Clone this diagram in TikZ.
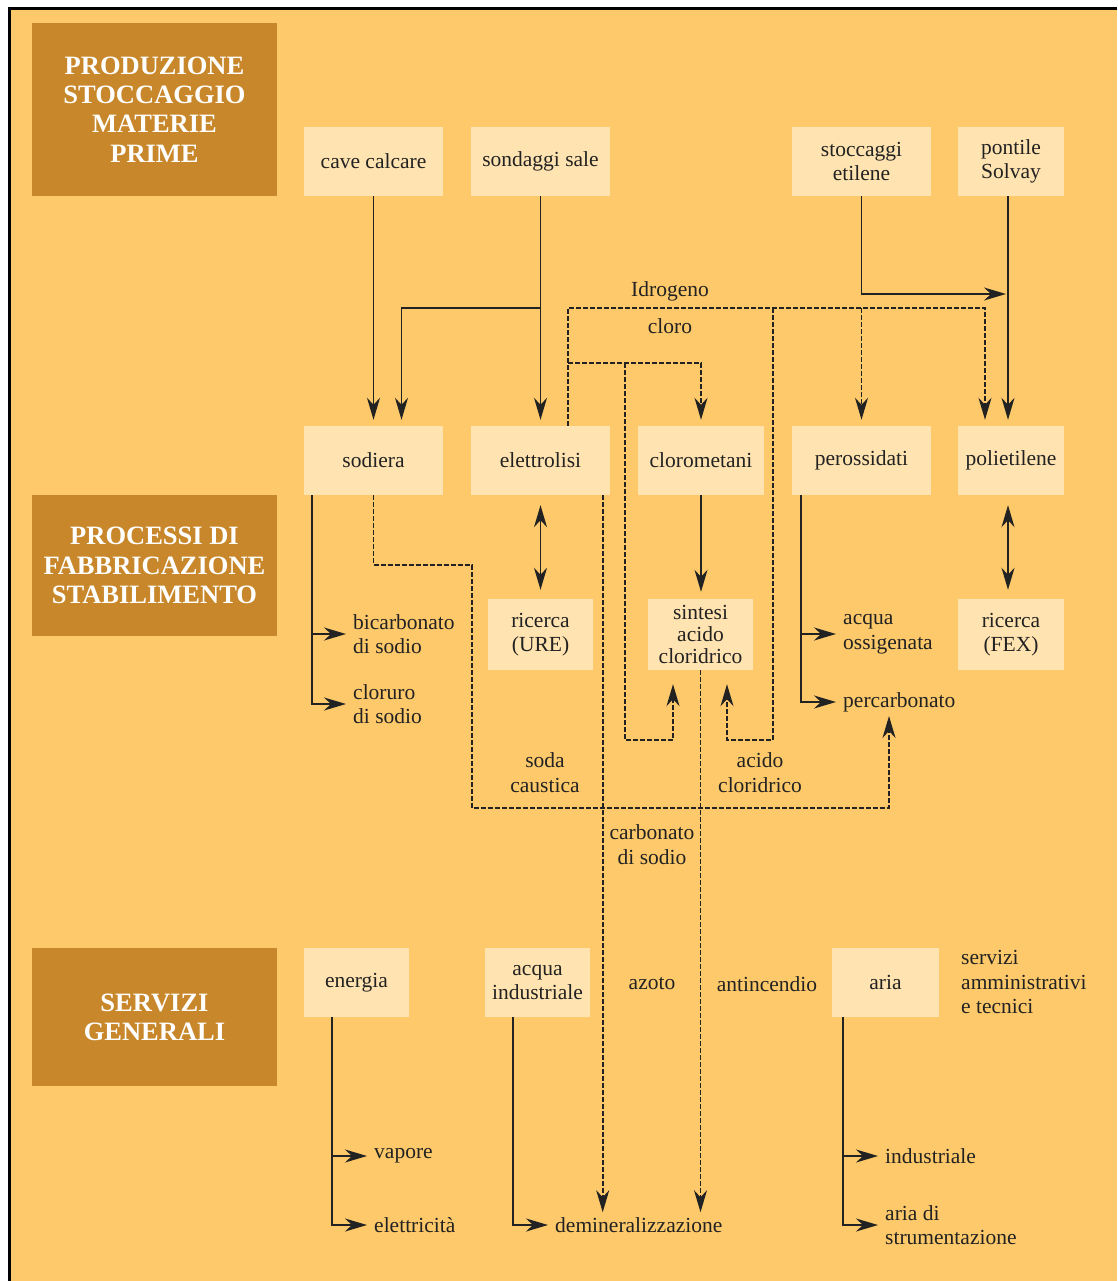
\documentclass[tikz,border=0pt]{standalone}
\usepackage{fontspec}
\setmainfont{Liberation Serif}
\usetikzlibrary{arrows.meta,calc}
\definecolor{bg}{HTML}{FDC96A}
\definecolor{boxc}{HTML}{FFE3B0}
\definecolor{catc}{HTML}{C8872A}
\definecolor{ink}{HTML}{222222}
\begin{document}
\begin{tikzpicture}[x=1pt,y=-1pt,
 box/.style={fill=boxc,inner sep=0pt,align=center,font=\fontsize{21.5}{24}\selectfont,text=ink},
 cat/.style={fill=catc,inner sep=0pt,align=center,text=white,font=\fontsize{26.5}{29.3}\selectfont\bfseries,minimum width=245pt},
 lbl/.style={inner sep=0pt,align=left,font=\fontsize{21.5}{24.5}\selectfont,text=ink},
 clbl/.style={inner sep=0pt,align=center,font=\fontsize{21.5}{25}\selectfont,text=ink},
 flow/.style={draw=ink,line width=1.8pt},
 dflow/.style={flow,dash pattern=on 5pt off 2pt},
 tip/.style={-{Stealth[length=22pt,width=13pt,inset=7pt]}},
 dtip/.style={{Stealth[length=22pt,width=13pt,inset=7pt]}-{Stealth[length=22pt,width=13pt,inset=7pt]}}
]
\useasboundingbox (0,0) rectangle (1117,1281);
\fill[white] (0,0) rectangle (1117,1281);
\fill[bg] (10,10) rectangle (1117,1281);
\draw[black,line width=3pt] (9,1281) -- (9,9) -- (1117,9);

% category boxes
\node[cat,minimum height=173pt] (cat1) at (154.5,109.5) {PRODUZIONE\\STOCCAGGIO\\MATERIE\\PRIME};
\node[cat,minimum height=141pt] (cat2) at (154.5,565.5) {PROCESSI DI\\FABBRICAZIONE\\STABILIMENTO};
\node[cat,minimum height=138pt] (cat3) at (154.5,1017) {SERVIZI\\GENERALI};

% boxes
\node[box,minimum width=139pt,minimum height=69pt] (cave) at (373.5,161.5) {cave calcare};
\node[box,minimum width=139pt,minimum height=69pt] (sond) at (540.5,161.5) {sondaggi sale};
\node[box,minimum width=139pt,minimum height=69pt] (stocc) at (861.5,161.5) {stoccaggi\\etilene};
\node[box,minimum width=106pt,minimum height=69pt] (pont) at (1011,161.5) {pontile\\Solvay};
\node[box,minimum width=139pt,minimum height=69pt] (sodiera) at (373.5,460.5) {sodiera};
\node[box,minimum width=139pt,minimum height=69pt] (elettr) at (540.5,460.5) {elettrolisi};
\node[box,minimum width=126pt,minimum height=69pt] (cloro) at (701,460.5) {clorometani};
\node[box,minimum width=139pt,minimum height=69pt] (peross) at (861.5,460.5) {perossidati};
\node[box,minimum width=106pt,minimum height=69pt] (poliet) at (1011,460.5) {polietilene};
\node[box,minimum width=105pt,minimum height=71pt] (ure) at (540.5,634.5) {ricerca\\(URE)};
\node[box,minimum width=105pt,minimum height=71pt,font=\fontsize{21.5}{22}\selectfont] (sintesi) at (700.5,634.5) {sintesi\\acido\\cloridrico};
\node[box,minimum width=106pt,minimum height=71pt] (fex) at (1011,634.5) {ricerca\\(FEX)};
\node[box,minimum width=105pt,minimum height=69pt] (energia) at (356.5,982.5) {energia};
\node[box,minimum width=105pt,minimum height=69pt] (acqua) at (537.5,982.5) {acqua\\industriale};
\node[box,minimum width=107pt,minimum height=69pt] (aria) at (885.5,982.5) {aria};

% free labels
\node[clbl] (idro) at (670,291) {Idrogeno};
\node[clbl] (clor) at (670,326) {cloro};
\node[lbl,anchor=west] (bicarb) at (353,634) {bicarbonato\\di sodio};
\node[lbl,anchor=west] (cloruro) at (353,704) {cloruro\\di sodio};
\node[lbl,anchor=west] (acquaox) at (843,634) {acqua\\ossigenata};
\node[lbl,anchor=west] (percarb) at (843,702) {percarbonato};
\node[clbl] (soda) at (545,773) {soda\\caustica};
\node[clbl] (hcl) at (760,773) {acido\\cloridrico};
\node[clbl] (carb) at (652,845) {carbonato\\di sodio};
\node[clbl] (azoto) at (652,984) {azoto};
\node[clbl] (antinc) at (767,984) {antincendio};
\node[lbl,anchor=west] (serv) at (961,982) {servizi\\amministrativi\\e tecnici};
\node[lbl,anchor=west] (vapore) at (374,1156) {vapore};
\node[lbl,anchor=west] (elettrc) at (374,1225) {elettricità};
\node[lbl,anchor=west] (demin) at (555,1225) {demineralizzazione};
\node[lbl,anchor=west] (indus) at (885,1156) {industriale};
\node[lbl,anchor=west] (ariastr) at (885,1225) {aria di\\strumentazione};

% helper coordinates
\coordinate (pontx) at ([xshift=-3pt]pont.south);
\coordinate (polx) at ([xshift=-3pt]poliet.south);
\coordinate (fexx) at ([xshift=-3pt]fex.north);
\coordinate (eh) at ([xshift=27.5pt]elettr.north);
\coordinate (ph) at ([xshift=-26pt]poliet.north);
\coordinate (hx) at (773,308);
\coordinate (cx) at (625,363);
\coordinate (sinR) at ([xshift=26.5pt]sintesi.south);
\coordinate (sinL) at ([xshift=-27.5pt]sintesi.south);
\coordinate (sa) at ([xshift=8pt]sodiera.south west);
\coordinate (ex) at ([xshift=-7.5pt]elettr.south east);
\coordinate (px) at ([xshift=9pt]peross.south west);
\coordinate (pc) at (889,716);
\coordinate (ea) at ([xshift=28pt]energia.south west);
\coordinate (aa) at ([xshift=28pt]acqua.south west);
\coordinate (ra) at ([xshift=11pt]aria.south west);

% top connectors
\draw[flow,tip,shorten >=6pt] (cave.south) -- (sodiera.north);
\draw[flow,tip,shorten >=6pt] (sond.south) -- (elettr.north);
\draw[flow,tip,shorten >=6pt] (sond.south |- 0,308) -| ([xshift=28pt]sodiera.north);
\draw[flow,tip,shorten >=2pt] (stocc.south) |- (pontx |- 0,294);
\draw[flow,tip,shorten >=6pt] (pontx) -- (pontx |- poliet.north);
% idrogeno
\draw[dflow,tip,shorten >=6pt] (eh) |- (ph |- 0,308) -- (ph);
\draw[dflow,tip,shorten >=6pt] (peross.north |- 0,308) -- (peross.north);
\draw[dflow,tip,shorten >=14pt] (hx) -- (hx |- 0,740) -| (sinR);
% cloro
\draw[dflow,tip,shorten >=6pt] (eh |- 0,363) -| (cloro.north);
\draw[dflow,tip,shorten >=14pt] (cx) -- (cx |- 0,740) -| (sinL);

% middle connectors
\draw[flow,tip,shorten >=7pt] (sa) |- (bicarb.west);
\draw[flow,tip,shorten >=7pt] (sa) |- (cloruro.west);
\draw[dflow,tip] (sodiera.south) |- (472,565) |- (pc |- 0,808) -- (pc);
\draw[dflow,tip,shorten >=5pt] (ex) -- (ex |- demin.north);
\draw[flow,dtip,shorten <=10pt,shorten >=9pt] (elettr.south) -- (ure.north);
\draw[flow,tip,shorten >=7pt] (cloro.south) -- (cloro.south |- sintesi.north);
\draw[dflow,tip,shorten >=5pt] (sintesi.south) -- (sintesi.south |- demin.north);
\draw[flow,tip,shorten >=7pt] (px) |- (acquaox.west);
\draw[flow,tip,shorten >=7pt] (px) |- (percarb.west);
\draw[flow,dtip,shorten <=10pt,shorten >=9pt] (polx) -- (fexx);

% bottom connectors
\draw[flow,tip,shorten >=7pt] (ea) |- (vapore.west);
\draw[flow,tip,shorten >=7pt] (ea) |- (elettrc.west);
\draw[flow,tip,shorten >=7pt] (aa) |- (demin.west);
\draw[flow,tip,shorten >=7pt] (ra) |- (indus.west);
\draw[flow,tip,shorten >=7pt] (ra) |- (ariastr.west);
\end{tikzpicture}
\end{document}
